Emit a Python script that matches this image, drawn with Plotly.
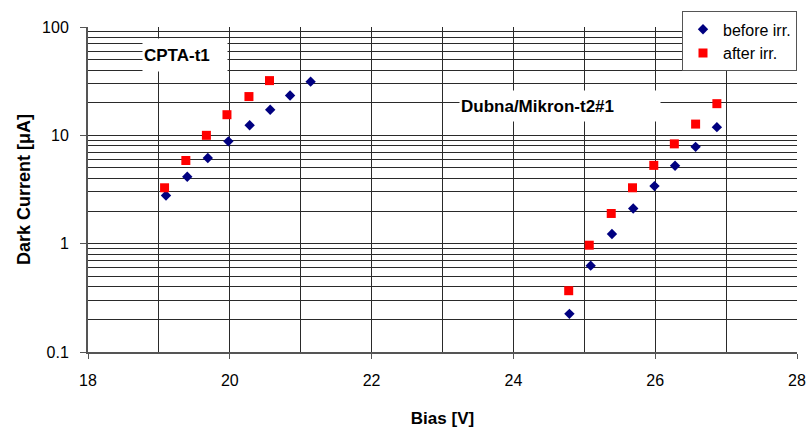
import plotly.graph_objects as go

cpta_before_x = [19.10, 19.40, 19.69, 19.98, 20.28, 20.57, 20.85, 21.14]
cpta_before_y = [2.78, 4.15, 6.18, 8.8, 12.4, 17.2, 23.3, 31.3]
cpta_after_x = [19.08, 19.38, 19.67, 19.96, 20.27, 20.56]
cpta_after_y = [3.28, 5.86, 10.0, 15.5, 22.8, 32.0]

dubna_before_x = [24.79, 25.09, 25.39, 25.69, 25.99, 26.28, 26.57, 26.87]
dubna_before_y = [0.225, 0.627, 1.23, 2.11, 3.40, 5.24, 7.83, 11.9]
dubna_after_x = [24.78, 25.07, 25.38, 25.68, 25.98, 26.27, 26.57, 26.87]
dubna_after_y = [0.368, 0.968, 1.90, 3.28, 5.28, 8.34, 12.7, 19.6]

before_x = cpta_before_x + dubna_before_x
before_y = cpta_before_y + dubna_before_y
after_x = cpta_after_x + dubna_after_x
after_y = cpta_after_y + dubna_after_y

font = "Liberation Sans, Arial, sans-serif"
grid = "#2a2a2a"

fig = go.Figure()
fig.add_trace(go.Scatter(x=before_x, y=before_y, mode="markers", name="before irr.",
                         legendgroup="a",
                         marker=dict(symbol="diamond", size=8, color="#000080")))
fig.add_trace(go.Scatter(x=after_x, y=after_y, mode="markers", name="after irr.",
                         legendgroup="b",
                         marker=dict(symbol="square", size=9, color="#FF0000")))

fig.add_annotation(x=19.368, y=1.746, yref="y", text="<b>CPTA-t1</b>", showarrow=False,
                   bgcolor="white", width=82, height=30, align="left", borderpad=1,
                   font=dict(size=17, color="black", family=font))
fig.add_annotation(x=24.66, y=1.274, yref="y", text="<b>Dubna/Mikron-t2#1</b>", showarrow=False,
                   bgcolor="white", width=198, height=28, align="left", borderpad=1,
                   font=dict(size=17, color="black", family=font))

fig.update_layout(
    width=808, height=430,
    margin=dict(l=88, r=11, t=19, b=78),
    paper_bgcolor="white", plot_bgcolor="white",
    font=dict(family=font, size=16, color="black"),
    showlegend=True,
    legend=dict(x=1.0, xanchor="right", y=1.048, yanchor="top",
                bgcolor="white", bordercolor="#555555", borderwidth=1,
                font=dict(size=16, family=font), itemwidth=30,
                traceorder="grouped", tracegroupgap=0),
    xaxis=dict(range=[18, 28], dtick=2, tick0=18, showgrid=True, gridcolor=grid, gridwidth=1,
               minor=dict(dtick=1, showgrid=True, gridcolor=grid, gridwidth=1),
               showline=True, linecolor="#555555", linewidth=2, ticks="outside", ticklen=5,
               tickcolor="#555555", zeroline=False, automargin=False, ticklabelstandoff=8,
               title=dict(text="<b>Bias [V]</b>", font=dict(size=17, family=font), standoff=24),
               tickfont=dict(size=16, family=font)),
    yaxis=dict(type="log", range=[-1, 2], dtick=1, showgrid=True, gridcolor=grid, gridwidth=1,
               minor=dict(dtick="D1", showgrid=True, gridcolor=grid, gridwidth=1),
               showline=True, linecolor="#555555", linewidth=2, ticks="outside", ticklen=6,
               tickcolor="#555555", zeroline=False, tickformat="~g", automargin=False,
               ticklabelstandoff=8,
               title=dict(text="<b>Dark Current [μA]</b>", font=dict(size=18, family=font), standoff=7),
               tickfont=dict(size=16, family=font)),
)

fig.write_html("out.html")
